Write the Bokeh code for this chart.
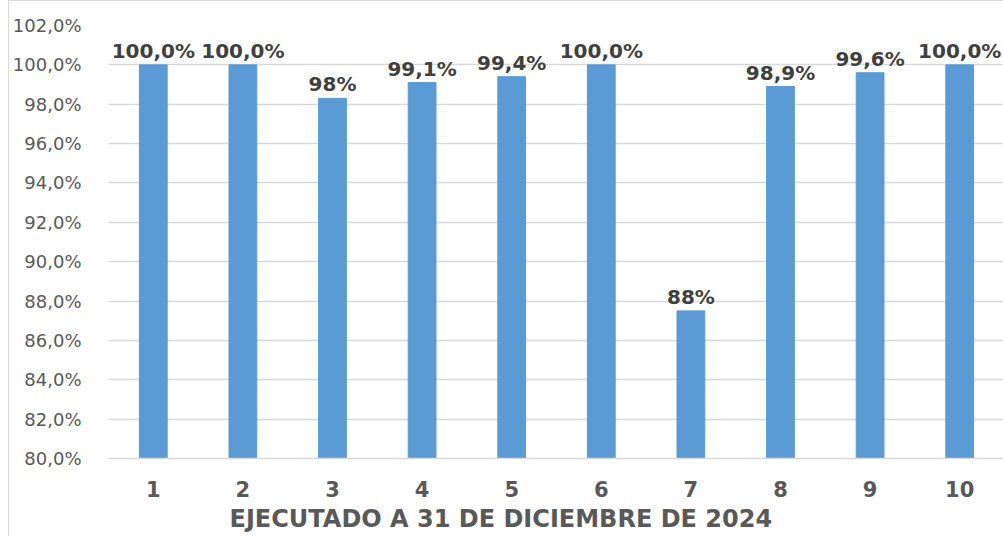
from bokeh.plotting import figure
from bokeh.models import ColumnDataSource, FixedTicker, Range1d, FactorRange, Title
from bokeh.embed import file_html
from bokeh.resources import INLINE
from bokeh.core.properties import value

categories = ["1", "2", "3", "4", "5", "6", "7", "8", "9", "10"]
values = [100.0, 100.0, 98.3, 99.1, 99.4, 100.0, 87.5, 98.9, 99.6, 100.0]
value_labels = ["100,0%", "100,0%", "98%", "99,1%", "99,4%", "100,0%", "88%", "98,9%", "99,6%", "100,0%"]
y_ticks = [80, 82, 84, 86, 88, 90, 92, 94, 96, 98, 100, 102]
y_tick_labels = ["80,0%", "82,0%", "84,0%", "86,0%", "88,0%", "90,0%", "92,0%", "94,0%", "96,0%", "98,0%", "100,0%", "102,0%"]
x_title = "EJECUTADO A 31 DE DICIEMBRE DE 2024"

src = ColumnDataSource(dict(x=categories, top=values, label=value_labels))

p = figure(x_range=FactorRange(*categories, range_padding=0), y_range=Range1d(80, 102),
           width=995, height=536, output_backend="svg", toolbar_location=None,
           min_border_left=96, min_border_top=24, min_border_right=0, min_border_bottom=79)
p.outline_line_color = None
p.styles = {"margin-left": "8px", "border-left": "1px solid #d9d9d9", "border-top": "1px solid #d9d9d9"}

p.vbar(x="x", top="top", bottom=80, width=0.31, source=src,
       fill_color="#5b9bd5", line_color="#5b9bd5")
p.text(x="x", y="top", text="label", source=src, text_align="center",
       text_baseline="alphabetic", y_offset=-14, text_font=value("DejaVu Sans"),
       text_font_style="bold", text_font_size="20px", text_color="#404040")

p.xgrid.grid_line_color = None
p.ygrid.grid_line_color = "#d9d9d9"
p.ygrid.grid_line_width = 1.5

p.yaxis.ticker = FixedTicker(ticks=y_ticks)
p.yaxis.major_label_overrides = {t: l for t, l in zip(y_ticks, y_tick_labels)}
p.yaxis.axis_line_color = None
p.yaxis.major_tick_line_color = None
p.yaxis.minor_tick_line_color = None
p.yaxis.major_label_standoff = 21
p.yaxis.major_label_text_font = "DejaVu Sans"
p.yaxis.major_label_text_font_size = "18px"
p.yaxis.major_label_text_color = "#595959"

p.xaxis.axis_line_color = "#d9d9d9"
p.xaxis.axis_line_width = 1.5
p.xaxis.major_tick_line_color = None
p.xaxis.minor_tick_line_color = None
p.xaxis.major_label_standoff = 16
p.xaxis.major_label_text_font = "DejaVu Sans"
p.xaxis.major_label_text_font_style = "bold"
p.xaxis.major_label_text_font_size = "21px"
p.xaxis.major_label_text_color = "#595959"

t = Title(text=x_title, align="left", offset=121, standoff=6,
          text_font="DejaVu Sans", text_font_style="bold", text_font_size="24px",
          text_color="#595959")
p.add_layout(t, "below")

open("out.html", "w").write(file_html(p, INLINE))
